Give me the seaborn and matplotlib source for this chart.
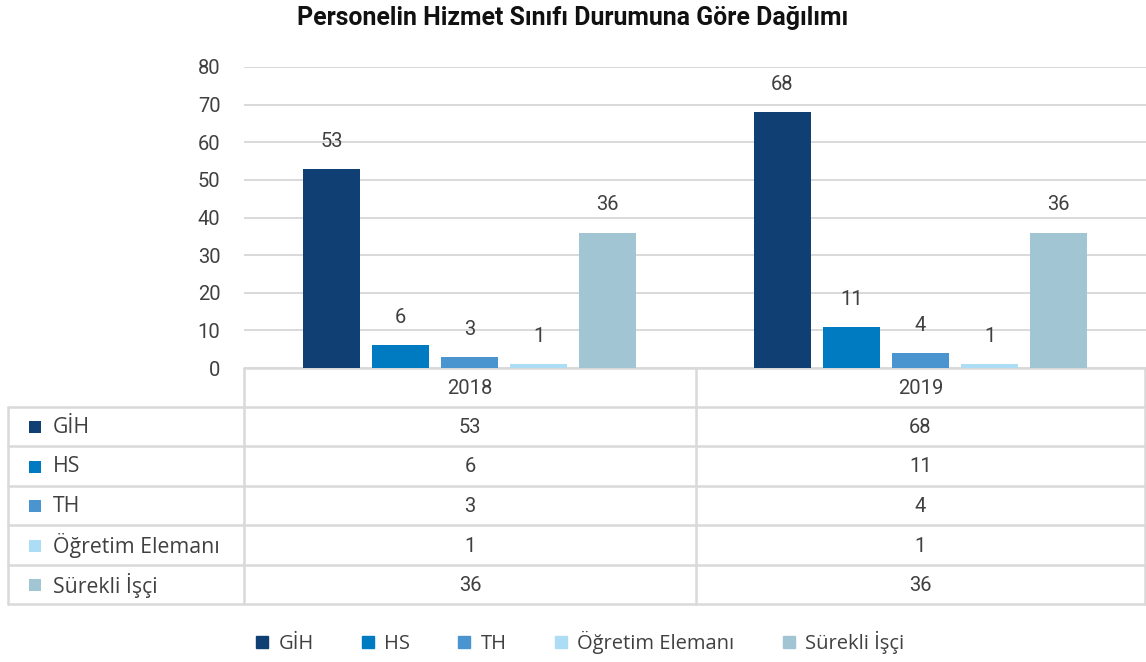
import matplotlib
matplotlib.use("Agg")
import matplotlib.pyplot as plt
import seaborn as sns
import pandas as pd
from matplotlib.patches import Rectangle
from matplotlib.lines import Line2D

# ---- data ----
years = ["2018", "2019"]
series = ["GİH", "HS", "TH", "Öğretim Elemanı", "Sürekli İşçi"]
gih = [53, 68]
hs = [6, 11]
th = [3, 4]
ogretim = [1, 1]
surekli = [36, 36]
colors = ["#104073", "#007AC0", "#4A95D0", "#ACDDF4", "#A2C5D4"]
title = "Personelin Hizmet Sınıfı Durumuna Göre Dağılımı"
yticks = [0, 10, 20, 30, 40, 50, 60, 70, 80]

values = [gih, hs, th, ogretim, surekli]
rows = []
for s, vals in zip(series, values):
    for y, v in zip(years, vals):
        rows.append({"Yıl": y, "Seri": s, "Değer": v})
df = pd.DataFrame(rows)

sns.set_theme(style="white")
plt.rcParams["font.family"] = ["Roboto", "DejaVu Sans"]
txt = "#404040"

W, H = 1146, 662
fig = plt.figure(figsize=(W / 100, H / 100), dpi=100)

# axes placement in pixels
L, R, T, B = 244, 1146, 67, 368
ax = fig.add_axes([L / W, 1 - B / H, (R - L) / W, (B - T) / H])
sns.barplot(data=df, x="Yıl", y="Değer", hue="Seri", hue_order=series,
            order=years, palette=colors, width=0.765, gap=0.18,
            saturation=1, ax=ax, legend=False, linewidth=0)
ax.set_ylim(0, 80)
ax.set_xlim(-0.5, 1.5)
ax.set_yticks(yticks)
ax.set_yticklabels([str(t) for t in yticks], fontsize=14.5, color=txt)
ax.tick_params(axis="y", length=0, pad=17)
ax.set_xticks([])
ax.set_xlabel("")
ax.set_ylabel("")
ax.yaxis.grid(True, color="#D9D9D9", lw=1.4)
ax.set_axisbelow(True)
for sp in ax.spines.values():
    sp.set_visible(False)
for cont in ax.containers:
    ax.bar_label(cont, fmt="%d", padding=13, fontsize=14.5, color=txt)

fig.text(0.5, 1 - 18 / H, title, ha="center", va="center",
         fontsize=17.9, fontweight="bold", color="#111111")

# ---- data table overlay ----
tx = fig.add_axes([0, 0, 1, 1], zorder=-1)
tx.set_xlim(0, W)
tx.set_ylim(H, 0)
tx.axis("off")
lc = "#D9D9D9"
lw = 1.8
row_edges = [368, 407, 446, 486, 525, 565, 604]
col_x = [8, 244, 696, 1145]
# horizontal lines
tx.plot([244, 1145], [368, 368], color=lc, lw=lw)
for yy in row_edges[1:]:
    tx.plot([8, 1145], [yy, yy], color=lc, lw=lw)
# vertical lines
tx.plot([8, 8], [407, 604], color=lc, lw=lw)
for xx in col_x[1:]:
    tx.plot([xx, xx], [368, 604], color=lc, lw=lw)

col_centers = [(244 + 696) / 2, (696 + 1145) / 2]
hdr_y = (368 + 407) / 2
for cx, yr in zip(col_centers, years):
    tx.text(cx, hdr_y + 1, yr, ha="center", va="center", fontsize=14.5, color=txt)
for i, (s, vals, c) in enumerate(zip(series, values, colors)):
    yc = (row_edges[i + 1] + row_edges[i + 2]) / 2
    tx.add_patch(Rectangle((29, yc - 5.5), 12, 12, color=c, lw=0))
    tx.text(53, yc + 1, s, ha="left", va="center", fontsize=15.3, color=txt,
            family=["Open Sans", "DejaVu Sans"])
    for cx, v in zip(col_centers, vals):
        tx.text(cx, yc + 1, str(v), ha="center", va="center", fontsize=14.5, color=txt)

# ---- bottom legend ----
handles = [Line2D([0], [0], marker="s", linestyle="none", markersize=9,
                  markerfacecolor=c, markeredgecolor=c) for c in colors]
leg = fig.legend(handles, series, loc="center", bbox_to_anchor=(578 / W, 1 - 642 / H),
                 ncol=5, frameon=False, handletextpad=0.3, columnspacing=2.2,
                 handlelength=1.0, prop={"family": ["Open Sans", "DejaVu Sans"], "size": 14.5})
for t in leg.get_texts():
    t.set_color(txt)

fig.savefig("out.png", dpi=100, facecolor="white")
